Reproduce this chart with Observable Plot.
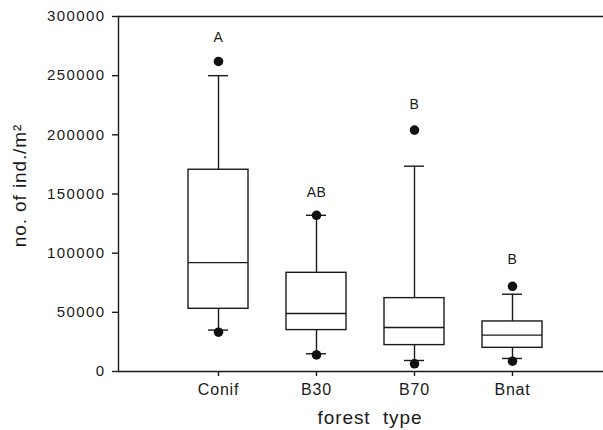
<!DOCTYPE html>
<html>
<head>
<meta charset="utf-8">
<script src="https://cdn.jsdelivr.net/npm/d3@7"></script>
<script src="https://cdn.jsdelivr.net/npm/@observablehq/plot@0.6"></script>
<style>
  html, body { margin: 0; padding: 0; background: #fff; overflow: hidden; }
  #chart svg { display: block; }
  g[aria-label="y-axis tick label"] text { letter-spacing: 1.4px; }
  g[aria-label="x-axis tick label"] text { letter-spacing: 0.8px; }
  .title text { letter-spacing: 0.9px; }
  .letters text { letter-spacing: 0.5px; }
</style>
</head>
<body>
<div id="chart"></div>
<script>
const categories = ["Conif", "B30", "B70", "Bnat"];
const whiskerLow  = [35000, 15000, 9300, 11000];
const q1          = [53000, 35000, 22300, 20000];
const median      = [92000, 49000, 37200, 30700];
const q3          = [170500, 83400, 62000, 42300];
const whiskerHigh = [250000, 132000, 173500, 65300];
const outlierHigh = [262000, 132000, 204000, 72000];
const outlierLow  = [33200, 14000, 6500, 8700];
const letters     = ["A", "AB", "B", "B"];
const letterY     = [282000, 151500, 226000, 94400];
const yTicks      = [0, 50000, 100000, 150000, 200000, 250000, 300000];

const rows = categories.map((c, i) => ({
  c, wl: whiskerLow[i], q1: q1[i], med: median[i], q3: q3[i], wh: whiskerHigh[i],
  oh: outlierHigh[i], ol: outlierLow[i], letter: letters[i], ly: letterY[i]
}));

const ink = "#1a1a1a";
const sw = 1.4;

const chart = Plot.plot({
  width: 603,
  height: 430,
  marginLeft: 118,
  marginRight: 0,
  marginTop: 16,
  marginBottom: 59,
  style: { fontFamily: "'Liberation Sans', Arial, Helvetica, sans-serif", color: ink, background: "#fff" },
  x: { type: "band", domain: categories, range: [118, 611], paddingInner: 0.392, paddingOuter: 0.696 },
  y: { domain: [0, 300000] },
  marks: [
    Plot.ruleY([0, 300000], { stroke: ink, strokeWidth: sw }),
    Plot.frame({ anchor: "left", stroke: ink, strokeWidth: sw }),
    Plot.axisY({ ticks: yTicks, tickFormat: d => String(d), tickSize: 6, tickPadding: 7, fontSize: 15, label: null, stroke: ink, strokeWidth: sw }),
    Plot.axisX({ tickSize: 5, tickPadding: 7, fontSize: 16, label: null, stroke: ink, strokeWidth: sw }),
    Plot.ruleX(rows, { x: "c", y1: "q3", y2: "wh", stroke: ink, strokeWidth: sw }),
    Plot.ruleX(rows, { x: "c", y1: "wl", y2: "q1", stroke: ink, strokeWidth: sw }),
    Plot.tickY(rows, { x: "c", y: "wh", insetLeft: 20, insetRight: 20, stroke: ink, strokeWidth: sw }),
    Plot.tickY(rows, { x: "c", y: "wl", insetLeft: 20, insetRight: 20, stroke: ink, strokeWidth: sw }),
    Plot.barY(rows, { x: "c", y1: "q1", y2: "q3", fill: "#fff", stroke: ink, strokeWidth: sw }),
    Plot.tickY(rows, { x: "c", y: "med", stroke: ink, strokeWidth: sw }),
    Plot.dot(rows, { x: "c", y: "oh", r: 4.8, fill: "#111", stroke: "none" }),
    Plot.dot(rows, { x: "c", y: "ol", r: 4.8, fill: "#111", stroke: "none" }),
    Plot.text(rows, { x: "c", y: "ly", text: "letter", fontSize: 14, lineAnchor: "middle", fill: ink, className: "letters" }),
    Plot.text(["no. of ind./m²"], { text: d => d, frameAnchor: "left", dx: -99, dy: -8.5, rotate: -90, fontSize: 19, textAnchor: "middle", lineAnchor: "middle", fill: ink, className: "title" }),
    Plot.text(["forest  type"], { text: d => d, frameAnchor: "bottom", dx: 9, dy: 46, fontSize: 19, textAnchor: "middle", lineAnchor: "middle", fill: ink, className: "title" })
  ]
});
document.getElementById("chart").appendChild(chart);
</script>
</body>
</html>
